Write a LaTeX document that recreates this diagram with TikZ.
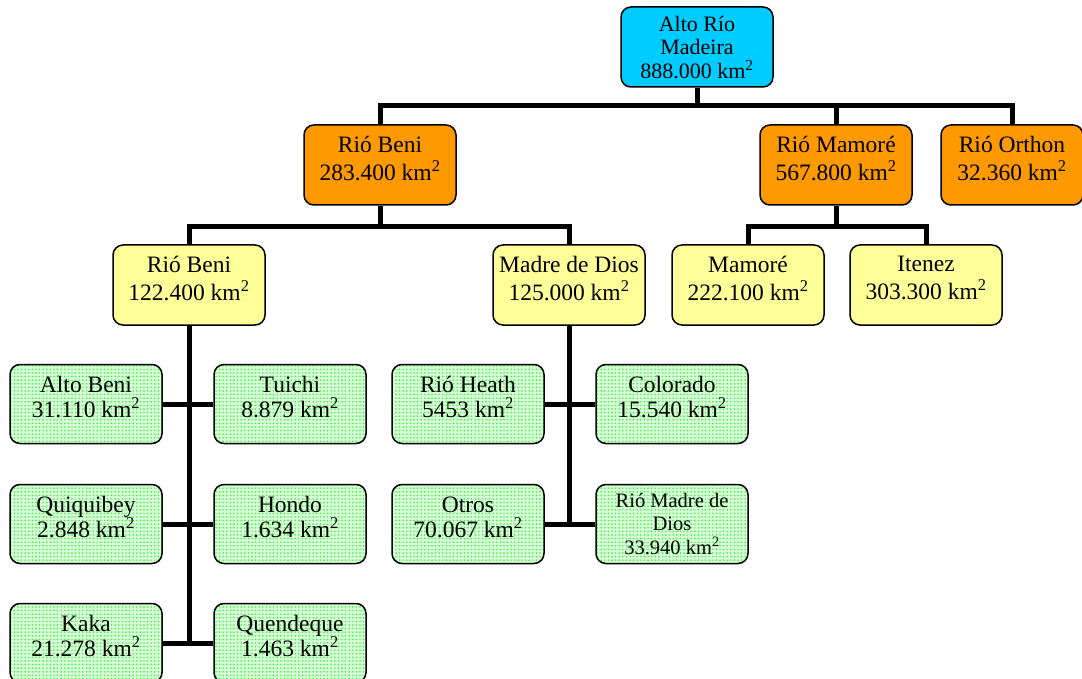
\documentclass[tikz,border=0pt]{standalone}
\usepackage{fontspec}
\setmainfont{Liberation Serif}
\usetikzlibrary{patterns}

% dotted fill of the lowest boxes
\pgfdeclarepatternformonly{greendots}{\pgfqpoint{-1pt}{-1pt}}{\pgfqpoint{1pt}{1pt}}%
  {\pgfqpoint{3.6pt}{3.6pt}}{\pgfpathcircle{\pgfqpoint{0pt}{0pt}}{0.85pt}\pgfusepath{fill}}

\begin{document}
\begin{tikzpicture}[x=1pt,y=-1pt]
  % Colors
  \definecolor{topcolor}{RGB}{0,204,255}
  \definecolor{riocolor}{RGB}{255,153,0}
  \definecolor{subcolor}{RGB}{255,255,153}
  \definecolor{basecolor}{RGB}{215,255,215}
  \definecolor{dotcolor}{RGB}{60,240,60}

  % Styles
  \tikzstyle{box}=[draw=black,line width=1.5pt,rounded corners=10pt,align=center,
                   font=\fontsize{23.5}{28}\selectfont,inner sep=2pt,text depth=14pt,
                   minimum width=152pt,minimum height=80pt]
  \tikzstyle{top box}=[box,fill=topcolor,font=\fontsize{22}{23.5}\selectfont,text depth=0pt]
  \tikzstyle{rio box}=[box,fill=riocolor]
  \tikzstyle{sub box}=[box,fill=subcolor]
  \tikzstyle{small box}=[box,preaction={fill=basecolor},pattern=greendots,
                         pattern color=dotcolor,minimum height=79pt,
                         font=\fontsize{23.5}{25}\selectfont]
  \tikzstyle{conn}=[line width=5pt]

  % The graphic
  \useasboundingbox (0,0) rectangle (1082,679);
  \clip (0,0) rectangle (1082,679);

  \node[top box] (madeira) at (697,47) {Alto Río\\Madeira\\888.000 km\textsuperscript{2}};

  \node[rio box] (beni)   at (380,165) {Rió Beni\\283.400 km\textsuperscript{2}};
  \node[rio box] (mamore) at (836,165) {Rió Mamoré\\567.800 km\textsuperscript{2}};
  \node[rio box,minimum width=142pt] (orthon) at (1012,165) {Rió Orthon\\32.360 km\textsuperscript{2}};

  \node[sub box] (benisub)  at (189,285) {Rió Beni\\122.400 km\textsuperscript{2}};
  \node[sub box] (madre)    at (569,285) {Madre de Dios\\125.000 km\textsuperscript{2}};
  \node[sub box] (mamoresub) at (748,285) {Mamoré\\222.100 km\textsuperscript{2}};
  \node[sub box] (itenez)   at (926,285) {Itenez\\303.300 km\textsuperscript{2}};

  \node[small box] (altobeni)  at (86,404)  {Alto Beni\\31.110 km\textsuperscript{2}};
  \node[small box] (tuichi)    at (290,404) {Tuichi\\8.879 km\textsuperscript{2}};
  \node[small box] (quiquibey) at (86,524)  {Quiquibey\\2.848 km\textsuperscript{2}};
  \node[small box] (hondo)     at (290,524) {Hondo\\1.634 km\textsuperscript{2}};
  \node[small box] (kaka)      at (86,643)  {Kaka\\21.278 km\textsuperscript{2}};
  \node[small box] (quendeque) at (290,643) {Quendeque\\1.463 km\textsuperscript{2}};

  \node[small box] (heath)    at (468,404) {Rió Heath\\5453 km\textsuperscript{2}};
  \node[small box] (colorado) at (672,404) {Colorado\\15.540 km\textsuperscript{2}};
  \node[small box] (otros)    at (468,524) {Otros\\70.067 km\textsuperscript{2}};
  \node[small box,font=\fontsize{20.5}{23.5}\selectfont,text depth=1pt] (madrerio) at (672,524)
       {Rió Madre de\\Dios\\33.940 km\textsuperscript{2}};

  % Connectors
  \draw[conn] (madeira.south) -- ++(0,18) -| (beni.north);
  \draw[conn] (madeira.south) -- ++(0,18) -| (mamore.north);
  \draw[conn] (madeira.south) -- ++(0,18) -| (orthon.north);

  \draw[conn] (beni.south) -- ++(0,21) -| (benisub.north);
  \draw[conn] (beni.south) -- ++(0,21) -| (madre.north);
  \draw[conn] (mamore.south) -- ++(0,21) -| (mamoresub.north);
  \draw[conn] (mamore.south) -- ++(0,21) -| (itenez.north);

  \draw[conn] (benisub.south) -- (benisub.south |- kaka.east);
  \foreach \a/\b in {altobeni/tuichi, quiquibey/hondo, kaka/quendeque, heath/colorado, otros/madrerio}
    \draw[conn] (\a.east) -- (\b.west);
  \draw[conn] (madre.south) -- (madre.south |- otros.east);
\end{tikzpicture}
\end{document}
